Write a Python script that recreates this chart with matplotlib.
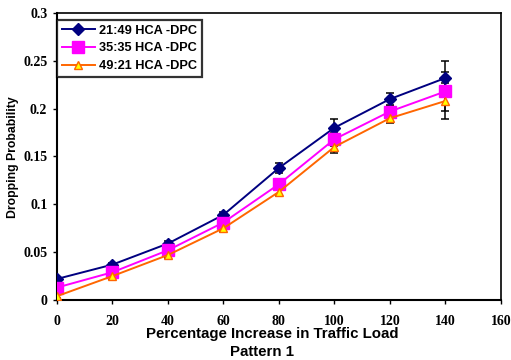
import matplotlib
matplotlib.use("Agg")
import matplotlib.pyplot as plt

load_pct = [0, 20, 40, 60, 80, 100, 120, 140]

series_labels = ["21:49 HCA -DPC", "35:35 HCA -DPC", "49:21 HCA -DPC"]
drop_2149 = [0.022, 0.037, 0.059, 0.089, 0.138, 0.180, 0.210, 0.232]
drop_3535 = [0.013, 0.029, 0.052, 0.081, 0.121, 0.168, 0.197, 0.218]
drop_4921 = [0.004, 0.025, 0.047, 0.075, 0.113, 0.160, 0.190, 0.208]

err_2149 = [0.002, 0.002, 0.003, 0.003, 0.005, 0.009, 0.006, 0.018]
err_3535 = [0.002, 0.003, 0.003, 0.004, 0.005, 0.007, 0.006, 0.020]
err_4921 = [0.002, 0.003, 0.003, 0.004, 0.004, 0.006, 0.005, 0.019]

x_ticks = [0, 20, 40, 60, 80, 100, 120, 140, 160]
y_ticks = [0, 0.05, 0.1, 0.15, 0.2, 0.25, 0.3]
y_tick_labels = ["0", "0.05", "0.1", "0.15", "0.2", "0.25", "0.3"]


def main() -> None:
    fig = plt.figure(figsize=(5.11, 3.6), dpi=100)
    ax = fig.add_axes([0.1115, 0.1667, 0.8685, 0.7972])

    styles = [
        dict(color="#000080", marker="D", markersize=6.5, mfc="#000080", mec="#000080"),
        dict(color="#FF00FF", marker="s", markersize=8, mfc="#FF00FF", mec="#FF00FF"),
        dict(color="#FF6600", marker="^", markersize=5.5, mfc="#FFFF00", mec="#FF6600"),
    ]
    data = [drop_2149, drop_3535, drop_4921]
    errs = [err_2149, err_3535, err_4921]

    for vals, err, st, lab in zip(data, errs, styles, series_labels):
        ax.errorbar(load_pct, vals, yerr=err, fmt="none", ecolor="black",
                    elinewidth=1.1, capsize=3, capthick=1.1, zorder=2)
        ax.plot(load_pct, vals, linewidth=1.4, label=lab, zorder=3, **st)

    ax.set_xlim(0, 160)
    ax.set_ylim(0, 0.3)
    ax.set_xticks(x_ticks)
    ax.set_yticks(y_ticks)
    ax.set_yticklabels(y_tick_labels)
    ax.tick_params(axis="x", direction="out", length=3, width=1, pad=8,
                   labelsize=10, labelfontfamily="Liberation Serif")
    ax.tick_params(axis="y", direction="out", length=3, width=1, pad=4,
                   labelsize=10, labelfontfamily="Liberation Serif")
    for lbl in ax.get_xticklabels() + ax.get_yticklabels():
        lbl.set_fontweight("bold")

    for side in ["left", "bottom"]:
        ax.spines[side].set_linewidth(1.5)
    for side in ["top", "right"]:
        ax.spines[side].set_linewidth(1.2)

    fig.text(272 / 511, 1 - 334 / 360, "Percentage Increase in Traffic Load",
             ha="center", va="center", fontsize=10.8, fontweight="bold",
             family="Liberation Sans")
    fig.text(262 / 511, 1 - 352 / 360, "Pattern 1",
             ha="center", va="center", fontsize=10.8, fontweight="bold",
             family="Liberation Sans")
    fig.text(13 / 511, 1 - 157 / 360, "Dropping Probability", rotation=90,
             ha="center", va="center", fontsize=8.8, fontweight="bold",
             family="Liberation Sans")

    leg = ax.legend(loc="upper left", bbox_to_anchor=(-0.001, 0.977),
                    frameon=True, fancybox=False, borderaxespad=0,
                    handlelength=2.6, handletextpad=0.3, labelspacing=0.45,
                    borderpad=0.4,
                    prop={"family": "Liberation Sans", "weight": "bold", "size": 9.2})
    leg.get_frame().set_edgecolor("black")
    leg.get_frame().set_linewidth(1.6)

    fig.savefig("out.png", dpi=100)


if __name__ == "__main__":
    main()
